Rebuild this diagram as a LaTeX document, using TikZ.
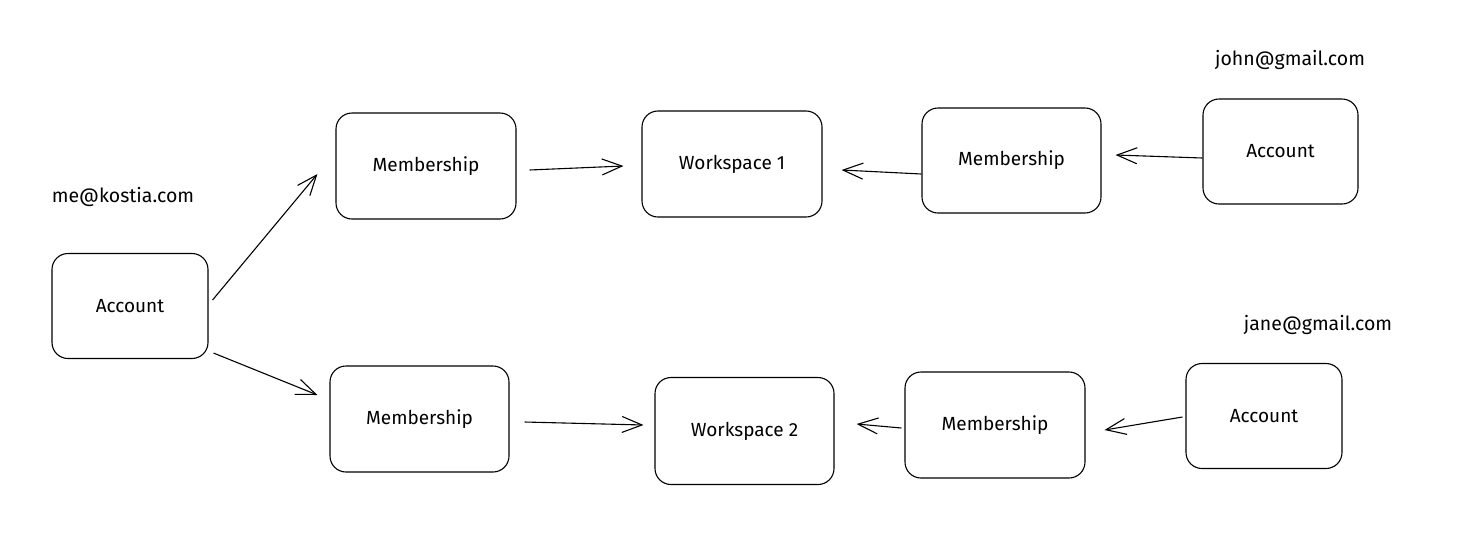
\documentclass[tikz,border=0pt]{standalone}
\usepackage{fontspec}
\setmainfont{Fira Sans}
\usetikzlibrary{arrows.meta}
\begin{document}
\begin{tikzpicture}[x=1pt,y=-1pt,
  box/.style={draw, line width=1.1pt, rounded corners=16pt, inner sep=0pt, font=\fontsize{19}{22}\selectfont},
  lbl/.style={inner sep=0pt, font=\fontsize{19.5}{22}\selectfont},
  conn/.style={draw, line width=1.1pt, -{Straight Barb[length=20pt,width=16pt,line width=1.1pt]}}
]
\useasboundingbox (0,0) rectangle (1463,558);
\node[box, minimum width=156pt, minimum height=105pt] (acc) at (130,306) {Account};
\node[box, minimum width=180pt, minimum height=106pt] (m1) at (426,166) {Membership};
\node[box, minimum width=180pt, minimum height=106pt] (w1) at (732,164) {Workspace 1};
\node[box, minimum width=179pt, minimum height=105pt] (m2) at (1011.5,160.5) {Membership};
\node[box, minimum width=155pt, minimum height=105pt] (a2) at (1280.5,151.5) {Account};
\node[box, minimum width=179pt, minimum height=106pt] (m3) at (419.5,419) {Membership};
\node[box, minimum width=179pt, minimum height=107pt] (w2) at (744.5,431) {Workspace 2};
\node[box, minimum width=180pt, minimum height=106pt] (m4) at (995,425) {Membership};
\node[box, minimum width=156pt, minimum height=105pt] (a3) at (1264,416) {Account};

\node[lbl] (e1) at (123,197) {me@kostia.com};
\node[lbl] (e2) at (1290,60) {john@gmail.com};
\node[lbl] (e3) at (1318,325) {jane@gmail.com};

\draw[conn] ([shift={(4,-6)}]acc.east) -- ([shift={(-18,8)}]m1.west);
\draw[conn] ([shift={(5,-6)}]acc.south east) -- ([shift={(-12,-24)}]m3.west);
\draw[conn] ([shift={(13,4)}]m1.east) -- ([shift={(-18,2)}]w1.west);
\draw[conn] ([shift={(0,13.5)}]m2.west) -- ([shift={(19,6)}]w1.east);
\draw[conn] ([shift={(0,6.5)}]a2.west) -- ([shift={(14,-5.5)}]m2.east);
\draw[conn] ([shift={(15,3)}]m3.east) -- ([shift={(-11,-6)}]w2.west);
\draw[conn] ([shift={(-3,3)}]m4.west) -- ([shift={(22,-7)}]w2.east);
\draw[conn] ([shift={(-3,1)}]a3.west) -- ([shift={(19,5)}]m4.east);
\end{tikzpicture}
\end{document}
